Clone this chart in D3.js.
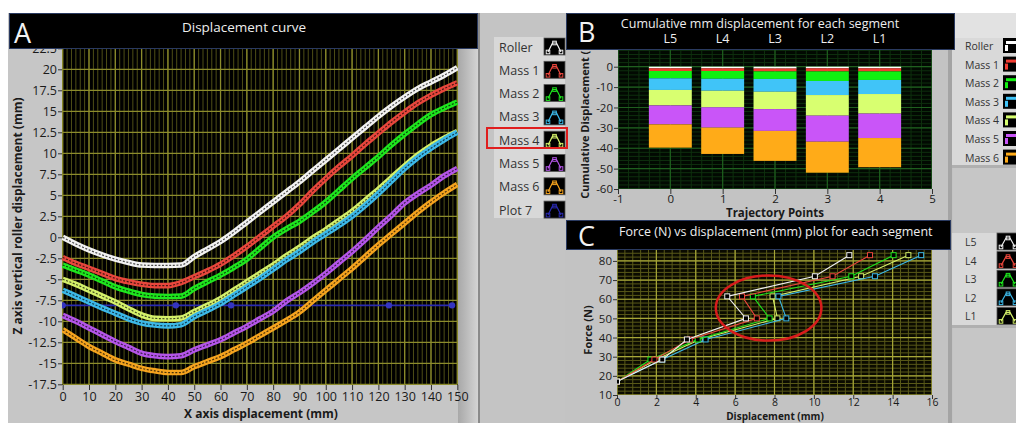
<!DOCTYPE html>
<html><head><meta charset="utf-8">
<script src="https://cdn.jsdelivr.net/npm/d3@7"></script>
<style>body{margin:0;background:#fff;overflow:hidden} text{font-family:"Open Sans",sans-serif;}</style>
</head><body><svg id="c" width="1016" height="423"></svg>
<script>
// ---------- Panel A data (Z displacement vs X displacement, mm) ----------
const aX = [0,5,10,15,20,25,30,35,40,45,50,55,60,65,70,75,80,85,90,95,100,105,110,115,120,125,130,135,140,145,150];
const roller = [0,-0.8,-1.5,-2.1,-2.6,-3.0,-3.3,-3.35,-3.35,-3.3,-2.3,-1.4,-0.5,0.6,1.8,3.0,4.2,5.4,6.6,7.9,9.2,10.5,11.8,13.1,14.4,15.6,16.7,17.7,18.5,19.3,20.2];
const mass1 = [-2.4,-3.1,-3.7,-4.3,-4.9,-5.3,-5.6,-5.75,-5.75,-5.4,-4.7,-4.0,-3.2,-2.2,-1.1,0.1,1.3,2.5,3.9,5.5,7.0,8.4,9.7,11.1,12.4,13.7,14.9,16.0,16.9,17.7,18.4];
const mass2 = [-3.3,-3.9,-4.5,-5.2,-5.9,-6.4,-6.8,-7.0,-7.05,-7.0,-6.1,-5.3,-4.5,-3.6,-2.6,-1.3,0.0,1.0,1.9,3.0,4.2,5.6,7.0,8.3,9.6,11.0,12.3,13.5,14.6,15.4,16.1];
const mass3 = [-6.3,-7.0,-7.7,-8.4,-9.05,-9.7,-10.2,-10.45,-10.55,-10.4,-9.45,-8.7,-7.9,-6.9,-5.9,-4.9,-3.8,-2.7,-1.7,-0.6,0.4,1.4,2.5,3.8,5.2,6.7,8.2,9.5,10.6,11.6,12.5];
const mass4 = [-5.0,-5.6,-6.3,-7.0,-7.7,-8.5,-9.25,-9.65,-9.7,-9.6,-8.85,-8.1,-7.3,-6.3,-5.3,-4.3,-3.3,-2.2,-1.2,-0.1,0.9,2.0,3.1,4.4,5.7,7.1,8.5,9.8,10.9,11.8,12.6];
const mass5 = [-9.3,-10.0,-10.8,-11.6,-12.4,-13.1,-13.8,-14.1,-14.2,-14.1,-13.4,-12.8,-12.2,-11.4,-10.6,-9.7,-8.8,-7.6,-6.6,-5.5,-4.3,-3.0,-1.7,-0.3,1.2,2.6,4.1,5.2,6.2,7.3,8.2];
const mass6 = [-11.0,-12.0,-13.0,-13.8,-14.6,-15.1,-15.6,-15.9,-16.1,-16.1,-15.4,-14.8,-14.2,-13.4,-12.6,-11.7,-10.8,-9.9,-8.9,-7.6,-6.3,-5.0,-3.7,-2.3,-0.9,0.4,1.7,3.0,4.2,5.3,6.3];
const plot7X = [0,43,64,124,148];
const plot7Y = [-8.1,-8.1,-8.1,-8.1,-8.1];
const aLegend = ["Roller","Mass 1","Mass 2","Mass 3","Mass 4","Mass 5","Mass 6","Plot 7"];
const aYTicks = [-17.5,-15,-12.5,-10,-7.5,-5,-2.5,0,2.5,5,7.5,10,12.5,15,17.5,20,22.5];
const aXTicks = [0,10,20,30,40,50,60,70,80,90,100,110,120,130,140,150];

// ---------- Panel B data (per-mass displacement magnitude, mm) ----------
const bTraj = [0,1,2,3,4];
const bSegLabels = ["L5","L4","L3","L2","L1"];
const bRoller = [0.8,0.8,0.9,0.8,0.8];
const bMass1 = [1.3,1.3,1.4,1.5,1.5];
const bMass2 = [3.6,3.8,3.7,4.7,4.2];
const bMass3 = [5.7,5.9,6.3,6.9,6.9];
const bMass4 = [7.6,8.1,8.5,10.1,9.6];
const bMass5 = [9.3,10.0,10.7,12.8,12.0];
const bMass6 = [11.4,12.9,14.7,15.2,14.3];
const bLegend = ["Roller","Mass 1","Mass 2","Mass 3","Mass 4","Mass 5","Mass 6"];
const bYTicks = [-60,-50,-40,-30,-20,-10,0];
const bXTicks = [-1,0,1,2,3,4,5];

// ---------- Panel C data (Force N vs displacement mm) ----------
const cForce = [17,28.5,39,50,61.5,72,83];
const cL5 = [0,2.3,3.55,6.55,5.6,10.05,11.8];
const cL4 = [0,1.9,3.7,7.1,6.35,10.95,12.85];
const cL3 = [0,1.7,4.1,7.75,6.9,11.9,14.05];
const cL2 = [0,2.3,4.5,8.6,8.2,13.1,15.45];
const cL1 = [0,2.0,4.2,8.15,7.9,12.4,14.8];
const cLegend = ["L5","L4","L3","L2","L1"];
const cYTicks = [10,20,30,40,50,60,70,80];
const cXTicks = [0,2,4,6,8,10,12,14,16];
const ellipse = {cx:7.7, cy:55.4, rx:2.68, ry:17};

// ---------- colours ----------
const lineCols = ["#f2f2f2","#e8463c","#1ee61e","#3cb8e8","#d4f06a","#b455e8","#f5a31e"];
const barCols  = ["#ffffff","#f03c32","#10f010","#40c4f8","#d8ff70","#c955f8","#ffab18"];
const plot7Col = "#2a2ab0";
const cCols = ["#f0f0f0","#e8463c","#1ee61e","#3cb8e8","#d4f06a"];

const svg = d3.select("#c");
const R = (x,y,w,h,f)=>svg.append("rect").attr("x",x).attr("y",y).attr("width",w).attr("height",h).attr("fill",f);

// backgrounds / frames
R(0,0,1016,423,"#ffffff");
R(8,13,472,410,"#c6c6c6");
R(480,13,85,410,"#c4c4c4");
R(494,37,71,181,"#d8d8d8");
R(565,13,388,410,"#c3c3c3");
R(953,13,63,410,"#c6c6c6");
R(953,13,63,25,"#e2e2e2");
R(950,38,66,127,"#d9d9d9");
R(952,233,64,92,"#d9d9d9");
R(950,165,66,3,"#b0b0b0");
R(952,325,64,3,"#b0b0b0");
const defs = svg.append("defs");
const gr = defs.append("linearGradient").attr("id","bev");
gr.append("stop").attr("offset","0").attr("stop-color","#a8a8a8");
gr.append("stop").attr("offset","1").attr("stop-color","#d4d4d4");
svg.append("rect").attr("x",458).attr("y",49).attr("width",20).attr("height",374).attr("fill","url(#bev)");
R(478,13,2,410,"#8a8a8a");
R(948,13,4,410,"#a4a4a4");

function clip(id,x,y,w,h){defs.append("clipPath").attr("id",id).append("rect").attr("x",x).attr("y",y).attr("width",w).attr("height",h);}

function grid(g,x,y,xs,ys,col,w){
  g.selectAll(null).data(xs).join("line").attr("x1",d=>x(d)).attr("x2",d=>x(d)).attr("y1",y.range()[0]).attr("y2",y.range()[1]).attr("stroke",col).attr("stroke-width",w);
  g.selectAll(null).data(ys).join("line").attr("y1",d=>y(d)).attr("y2",d=>y(d)).attr("x1",x.range()[0]).attr("x2",x.range()[1]).attr("stroke",col).attr("stroke-width",w);
}
function styleAxis(g,fs){
  g.select(".domain").remove();
  g.selectAll(".tick line").attr("stroke","#333");
  g.selectAll(".tick text").attr("fill","#1a1a1a").style("font-size",fs+"px").style("font-family","Open Sans");
}

// =================== PANEL A ===================
const xA = d3.scaleLinear().domain([0,150]).range([62.7,457.3]);
const yA = d3.scaleLinear().domain([-17.5,22.5]).range([384.3,48.3]);
clip("clipA",62,48,396,337);
const gA = svg.append("g").attr("clip-path","url(#clipA)");
gA.append("rect").attr("x",62).attr("y",48).attr("width",396).attr("height",337).attr("fill","#000");
grid(gA,xA,yA,d3.range(0,150.01,10/6),[],"#4e4e16",1);
grid(gA,xA,yA,aXTicks,aYTicks,"#8c8c2c",1.3);
// plot 7
const p7 = plot7X.map((d,i)=>[d,plot7Y[i]]);
gA.append("path").attr("d",d3.line().x(d=>xA(d[0])).y(d=>yA(d[1]))(p7)).attr("fill","none").attr("stroke",plot7Col).attr("stroke-width",1.6);
gA.selectAll(null).data(p7).join("circle").attr("cx",d=>xA(d[0])).attr("cy",d=>yA(d[1])).attr("r",3.2).attr("fill","#3434c0");
const aSeries = [roller,mass1,mass2,mass4,mass3,mass5,mass6];
const aColIdx = [0,1,2,4,3,5,6];
const lineA = d3.line().x((d,i)=>xA(aX[i])).y(d=>yA(d)).curve(d3.curveMonotoneX);
aSeries.forEach((s,k)=>{
  const col = lineCols[aColIdx[k]];
  gA.append("path").attr("d",lineA(s)).attr("fill","none").attr("stroke",col).attr("stroke-width",5.6).attr("stroke-linejoin","round");
  gA.append("path").attr("d",lineA(s)).attr("fill","none").attr("stroke","#000").attr("stroke-opacity",0.7).attr("stroke-width",1.2).attr("stroke-dasharray","2 1.6");
});
const axAy = svg.append("g").attr("transform","translate(62,0)").call(d3.axisLeft(yA).tickValues(aYTicks).tickFormat(d=>String(d)).tickSize(4).tickPadding(1));
styleAxis(axAy,12.5);
const axAx = svg.append("g").attr("transform","translate(0,385)").call(d3.axisBottom(xA).tickValues(aXTicks).tickFormat(d=>String(d)).tickSize(5).tickPadding(2));
styleAxis(axAx,12.5);
svg.append("text").attr("transform","translate(22,216) rotate(-90)").attr("text-anchor","middle").attr("font-weight","bold").attr("font-size",12).attr("fill","#1a1a1a").text("Z axis vertical roller displacement (mm)");
svg.append("text").attr("x",261).attr("y",418).attr("text-anchor","middle").attr("font-weight","bold").attr("font-size",12).attr("fill","#1a1a1a").text("X axis displacement (mm)");
// title bar A
svg.append("rect").attr("x",9.5).attr("y",13.5).attr("width",468).attr("height",35).attr("fill","#000").attr("stroke","#2a3a60");
svg.append("text").attr("x",14).attr("y",43).attr("fill","#f2f2f2").attr("font-size",27).text("A");
svg.append("text").attr("x",244).attr("y",32).attr("text-anchor","middle").attr("fill","#eeeeee").attr("font-size",13.5).text("Displacement curve");

// legend A
function iconCaret(x,cy,w,col,marker){
  svg.append("rect").attr("x",x).attr("y",cy-9).attr("width",w).attr("height",17).attr("fill","#000").attr("stroke","#555").attr("stroke-width",0.8);
  const pts=[[x+4,cy+5],[x+w/2-2,cy-4],[x+w/2+2,cy-4],[x+w-4,cy+5]];
  svg.append("path").attr("d",d3.line()(pts)).attr("fill","none").attr("stroke",col).attr("stroke-width",1.2);
  if(marker) [pts[0],[x+w/2,cy-4],pts[3]].forEach(p=>svg.append("rect").attr("x",p[0]-1.8).attr("y",p[1]-1.8).attr("width",3.6).attr("height",3.6).attr("fill","none").attr("stroke",col).attr("stroke-width",1));
}
const aLegCols = [lineCols[0],lineCols[1],lineCols[2],lineCols[3],lineCols[4],lineCols[5],lineCols[6],plot7Col];
aLegend.forEach((n,i)=>{
  const cy = 47 + i*23.3;
  svg.append("text").attr("x",499).attr("y",cy+4.5).attr("font-size",12.5).attr("fill","#333").text(n);
  iconCaret(544,cy,21,aLegCols[i],true);
});
svg.append("rect").attr("x",487).attr("y",128).attr("width",80).attr("height",20).attr("fill","none").attr("stroke","#e01e1e").attr("stroke-width",2);

// =================== PANEL B ===================
const xB = d3.scaleLinear().domain([-1,5]).range([618,932]);
const yB = d3.scaleLinear().domain([-60,8.2]).range([189,50]);
clip("clipB",618,50,314,139);
const gB = svg.append("g").attr("clip-path","url(#clipB)");
gB.append("rect").attr("x",618).attr("y",50).attr("width",314).attr("height",139).attr("fill","#020902");
grid(gB,xB,yB,d3.range(-1,5.01,0.2),d3.range(-60,8.1,2),"#0e300e",1);
grid(gB,xB,yB,bXTicks,bYTicks,"#1f5f1f",1.2);
const bStack = [bRoller,bMass1,bMass2,bMass3,bMass4,bMass5,bMass6];
bTraj.forEach((t,i)=>{
  let top = 0;
  bStack.forEach((s,k)=>{
    const bot = top - s[i];
    gB.append("rect").attr("x",xB(t-0.41)).attr("width",xB(t+0.41)-xB(t-0.41)).attr("y",yB(top)).attr("height",yB(bot)-yB(top)).attr("fill",barCols[k]);
    top = bot;
  });
});
const axBy = svg.append("g").attr("transform","translate(618,0)").call(d3.axisLeft(yB).tickValues(bYTicks).tickFormat(d=>String(d)).tickSize(4).tickPadding(1));
styleAxis(axBy,11.5);
const axBx = svg.append("g").attr("transform","translate(0,189)").call(d3.axisBottom(xB).tickValues(bXTicks).tickFormat(d=>String(d)).tickSize(5).tickPadding(1));
styleAxis(axBx,11.5);
svg.append("text").attr("transform","translate(589,112) rotate(-90)").attr("text-anchor","middle").attr("font-weight","bold").attr("font-size",11).attr("fill","#1a1a1a").text("Cumulative Displacement (mm)");
svg.append("text").attr("x",775).attr("y",217).attr("text-anchor","middle").attr("font-weight","bold").attr("font-size",11.5).attr("fill","#1a1a1a").text("Trajectory Points");
svg.append("rect").attr("x",566.5).attr("y",13.5).attr("width",388).attr("height",36).attr("fill","#000").attr("stroke","#2a3a60");
svg.append("text").attr("x",578).attr("y",42).attr("fill","#f2f2f2").attr("font-size",27).text("B");
svg.append("text").attr("x",760).attr("y",28).attr("text-anchor","middle").attr("fill","#eeeeee").attr("font-size",12.5).text("Cumulative mm displacement for each segment");
bSegLabels.forEach((l,i)=>svg.append("text").attr("x",xB(bTraj[i])).attr("y",43).attr("text-anchor","middle").attr("fill","#eeeeee").attr("font-size",12.5).text(l));
// legend B
bLegend.forEach((n,i)=>{
  const cy = 46 + i*18.6;
  svg.append("text").attr("x",965).attr("y",cy+4).attr("font-size",10.5).attr("fill","#333").text(n);
  svg.append("rect").attr("x",1003).attr("y",cy-8).attr("width",16).attr("height",15).attr("fill","#000");
  svg.append("rect").attr("x",1005).attr("y",cy-1).attr("width",3).attr("height",6).attr("fill",barCols[i]);
  svg.append("rect").attr("x",1006).attr("y",cy-5).attr("width",10).attr("height",3).attr("fill",barCols[i]);
});

// =================== PANEL C ===================
const xC = d3.scaleLinear().domain([0,16]).range([617,932]);
const yC = d3.scaleLinear().domain([10,85.7]).range([395,250]);
clip("clipC",617,250,315,145);
const gC = svg.append("g").attr("clip-path","url(#clipC)");
gC.append("rect").attr("x",617).attr("y",250).attr("width",315).attr("height",145).attr("fill","#0b0b00");
grid(gC,xC,yC,d3.range(0,16.01,0.4),d3.range(10,86,2),"#585818",1);
grid(gC,xC,yC,cXTicks,cYTicks,"#a6a638",1.2);
const cSeries = [cL5,cL4,cL3,cL2,cL1];
const lineC = d3.line().x(d=>xC(d[0])).y(d=>yC(d[1]));
[4,3,2,1,0].forEach(k=>{
  const pts = cSeries[k].map((d,i)=>[d,cForce[i]]);
  gC.append("path").attr("d",lineC(pts)).attr("fill","none").attr("stroke",cCols[k]).attr("stroke-width",1.1);
  gC.selectAll(null).data(pts).join("rect").attr("x",d=>xC(d[0])-2.5).attr("y",d=>yC(d[1])-2.5).attr("width",5).attr("height",5).attr("fill","#000").attr("stroke",cCols[k]).attr("stroke-width",1);
});
gC.append("ellipse").attr("cx",xC(ellipse.cx)).attr("cy",yC(ellipse.cy)).attr("rx",xC(ellipse.cx+ellipse.rx)-xC(ellipse.cx)).attr("ry",yC(ellipse.cy-ellipse.ry)-yC(ellipse.cy)).attr("fill","none").attr("stroke","#d81c1c").attr("stroke-width",2.5);
const axCy = svg.append("g").attr("transform","translate(617,0)").call(d3.axisLeft(yC).tickValues(cYTicks).tickFormat(d=>String(d)).tickSize(4).tickPadding(1));
styleAxis(axCy,11.5);
const axCx = svg.append("g").attr("transform","translate(0,395)").call(d3.axisBottom(xC).tickValues(cXTicks).tickFormat(d=>String(d)).tickSize(4).tickPadding(0));
styleAxis(axCx,10.5);
svg.append("text").attr("transform","translate(592,330) rotate(-90)").attr("text-anchor","middle").attr("font-weight","bold").attr("font-size",11).attr("fill","#1a1a1a").text("Force (N)");
svg.append("text").attr("x",775).attr("y",419.5).attr("text-anchor","middle").attr("font-weight","bold").attr("font-size",10).attr("fill","#1a1a1a").text("Displacement (mm)");
svg.append("rect").attr("x",566.5).attr("y",220.5).attr("width",384).attr("height",29).attr("fill","#000").attr("stroke","#2a3a60");
svg.append("text").attr("x",578).attr("y",246).attr("fill","#f2f2f2").attr("font-size",27).text("C");
svg.append("text").attr("x",619).attr("y",236).attr("fill","#eeeeee").attr("font-size",12.5).text("Force (N) vs displacement (mm) plot for each segment");
cLegend.forEach((n,i)=>{
  const cy = 242 + i*18.6;
  svg.append("text").attr("x",965).attr("y",cy+4).attr("font-size",10.5).attr("fill","#333").text(n);
  iconCaret(997,cy,22,cCols[i],true);
});
</script></body></html>
